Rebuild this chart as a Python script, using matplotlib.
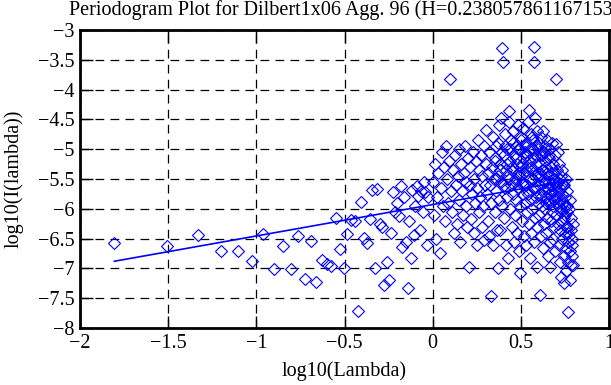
import matplotlib
matplotlib.use("Agg")
import matplotlib.pyplot as plt

# periodogram points, sparse low-frequency part
x_low = [-1.805, -1.504, -1.328, -1.203, -1.106, -1.027, -0.960, -0.902, -0.851, -0.805,
         -0.764, -0.726, -0.691, -0.659, -0.629, -0.601, -0.575, -0.550, -0.526, -0.504,
         -0.483, -0.463, -0.443, -0.425, -0.407, -0.390, -0.374, -0.358, -0.343, -0.328,
         -0.314, -0.300, -0.286, -0.274, -0.261, -0.249, -0.237, -0.225, -0.214, -0.203,
         -0.192, -0.182, -0.172, -0.162, -0.152, -0.142, -0.133, -0.124, -0.115, -0.106,
         -0.098, -0.089, -0.081, -0.073, -0.065, -0.057, -0.049, -0.042, -0.034, -0.027]
y_low = [-6.57, -6.62, -6.44, -6.70, -6.70, -6.87, -6.42, -7.01, -6.62, -7.01,
         -6.46, -7.17, -6.54, -7.22, -6.86, -6.92, -6.96, -6.16, -6.67, -6.99,
         -6.42, -6.18, -6.20, -7.72, -5.88, -6.49, -6.57, -6.17, -5.69, -7.00,
         -5.66, -6.25, -6.30, -7.28, -6.89, -7.19, -6.40, -5.71, -6.05, -5.90,
         -6.12, -5.62, -6.64, -5.80, -6.55, -7.33, -6.20, -6.82, -5.68, -6.44,
         -5.95, -5.62, -5.78, -6.35, -5.70, -6.05, -5.55, -5.72, -6.60, -5.80]

# dense high-frequency part
x_high = [0.000, 0.006, 0.013, 0.020, 0.026, 0.033, 0.039, 0.045, 0.051, 0.057,
          0.063, 0.069, 0.075, 0.081, 0.087, 0.093, 0.098, 0.104,
          0.110, 0.115, 0.121, 0.126, 0.131, 0.137, 0.142, 0.147, 0.152, 0.157,
          0.162, 0.167, 0.172, 0.177, 0.182, 0.187, 0.191, 0.196, 0.201,
          0.205, 0.210, 0.214, 0.219, 0.223, 0.228, 0.232, 0.236, 0.241, 0.245,
          0.249, 0.253, 0.257, 0.261, 0.265, 0.269, 0.273, 0.277, 0.281, 0.285,
          0.289, 0.293, 0.297, 0.300,
          0.304, 0.308, 0.311, 0.315, 0.319, 0.322, 0.326, 0.330, 0.333, 0.337,
          0.340, 0.344, 0.347, 0.351, 0.354, 0.357, 0.361, 0.364, 0.368, 0.371,
          0.374, 0.377, 0.380, 0.384, 0.387, 0.390, 0.393, 0.396, 0.399, 0.402,
          0.405, 0.408, 0.411, 0.414, 0.417, 0.420, 0.423, 0.426, 0.429, 0.432,
          0.435, 0.438, 0.441, 0.444, 0.446, 0.449, 0.452, 0.455, 0.458, 0.460,
          0.463, 0.466, 0.469, 0.471, 0.474, 0.477, 0.479, 0.482, 0.485, 0.487,
          0.490, 0.492, 0.495, 0.497, 0.500,
          0.503, 0.505, 0.508, 0.510, 0.513, 0.515, 0.517, 0.520, 0.522, 0.525,
          0.527, 0.530, 0.532, 0.534, 0.537, 0.539, 0.541, 0.544, 0.546, 0.548,
          0.551, 0.553, 0.555, 0.557, 0.560, 0.562, 0.564, 0.566, 0.568, 0.571,
          0.573, 0.575, 0.577, 0.579, 0.581, 0.583, 0.585, 0.587, 0.589, 0.591,
          0.593, 0.595, 0.597, 0.599,
          0.601, 0.603, 0.605, 0.607, 0.609, 0.611, 0.613, 0.615, 0.617, 0.619,
          0.621, 0.623, 0.625, 0.627, 0.629, 0.631, 0.633, 0.635, 0.637, 0.639,
          0.641, 0.643, 0.645, 0.647, 0.649, 0.651, 0.653, 0.655, 0.657, 0.659,
          0.661, 0.663, 0.665, 0.667, 0.668, 0.670, 0.672, 0.674, 0.676, 0.678,
          0.680, 0.682, 0.684, 0.686, 0.688, 0.690, 0.692, 0.694, 0.696, 0.698,
          0.700, 0.702, 0.704, 0.706, 0.708, 0.710, 0.712, 0.714, 0.716, 0.718,
          0.720, 0.722, 0.724, 0.726, 0.728, 0.730, 0.732, 0.734, 0.736, 0.738,
          0.740, 0.742, 0.744, 0.746, 0.748, 0.750, 0.752, 0.754, 0.756, 0.758,
          0.760, 0.762, 0.764, 0.766, 0.768, 0.770, 0.772, 0.774, 0.776, 0.778,
          0.780, 0.782, 0.784, 0.786, 0.788, 0.790, 0.792, 0.794, 0.795]
y_high = [-5.55, -6.10, -5.25, -6.50, -5.80, -5.40, -6.75, -5.65, -5.05, -5.95,
          -5.30, -6.20, -4.95, -5.50, -5.90, -5.20, -3.83, -5.70,
          -6.05, -5.35, -6.40, -5.10, -5.60, -6.25, -5.45, -5.00, -5.85, -6.55,
          -5.25, -5.70, -6.10, -5.40, -4.95, -5.95, -5.55, -6.30, -5.15,
          -6.97, -5.60, -5.30, -6.17, -5.75, -5.05, -6.40, -5.50, -5.90, -5.20,
          -6.60, -5.65, -4.85, -5.35, -6.05, -5.80, -5.10, -6.30, -5.45, -5.95,
          -4.95, -6.53, -5.60, -5.25,
          -4.68, -5.75, -6.20, -5.40, -5.05, -6.45, -5.60, -5.90, -7.46, -5.30,
          -4.80, -6.60, -5.50, -5.15, -6.05, -5.70, -4.95, -6.35, -5.45, -6.99,
          -5.85, -4.60, -5.25, -6.36, -5.55, -4.47, -5.95, -3.31, -3.54, -5.10,
          -6.15, -4.75, -5.65, -5.35, -6.61, -5.00, -5.80, -6.82, -5.45, -4.55,
          -4.36, -6.00, -5.20, -5.60, -4.85, -6.30, -5.35, -5.75, -4.70, -6.55,
          -5.10, -5.50, -6.10, -4.95, -5.85, -5.25, -6.40, -4.60, -5.65, -5.40,
          -6.70, -5.00, -5.95, -7.07, -5.30,
          -4.80, -5.55, -6.20, -5.15, -5.75, -4.65, -6.45, -5.40, -5.90, -5.05,
          -6.60, -5.60, -4.90, -6.05, -5.30, -5.70, -4.55, -4.34, -6.25, -5.20,
          -6.82, -5.50, -4.75, -5.85, -6.40, -5.35, -5.00, -6.00, -5.65, -4.85,
          -6.55, -3.29, -3.54, -4.47, -5.45, -6.15, -5.10, -5.80, -4.70, -6.30,
          -6.98, -5.40, -5.90, -5.00,
          -5.60, -4.90, -6.10, -5.25, -7.44, -5.75, -4.80, -6.45, -5.45, -5.10,
          -5.95, -6.65, -5.35, -4.69, -5.70, -6.25, -5.05, -5.55, -6.00, -4.95,
          -5.80, -6.40, -5.30, -5.65, -4.85, -6.15, -5.45, -6.80, -5.15, -5.90,
          -5.55, -6.55, -5.00, -6.98, -5.75, -6.20, -5.40, -4.90, -6.05, -5.60,
          -6.50, -5.25, -5.50, -5.85, -6.30, -5.50, -5.10, -6.70, -5.70, -6.10,
          -3.83, -4.92, -5.35, -5.80, -6.25, -5.05, -5.55, -6.60, -5.95, -5.25,
          -6.90, -5.65, -6.35, -5.45, -6.05, -7.15, -5.75, -6.50, -5.35, -6.20,
          -5.90, -6.80, -5.60, -7.25, -6.40, -5.80, -6.10, -5.50, -6.65, -7.05,
          -5.95, -6.30, -5.70, -6.90, -6.55, -7.73, -6.00, -6.45, -5.85, -7.20,
          -6.70, -6.15, -6.95, -6.35, -6.60, -6.80, -6.50, -6.95, -6.25]

# extra points in the crowded core of the cloud
x_core = [0.352, 0.362, 0.372, 0.382, 0.392, 0.403, 0.413, 0.422, 0.431, 0.440,
          0.448, 0.457, 0.466, 0.474, 0.483, 0.491, 0.499, 0.507, 0.514, 0.521,
          0.529, 0.536, 0.543, 0.550, 0.556, 0.563, 0.569, 0.576, 0.582, 0.588,
          0.594, 0.600, 0.606, 0.612, 0.618, 0.624, 0.630, 0.636, 0.642, 0.648,
          0.654, 0.660, 0.666, 0.672, 0.678, 0.684, 0.690, 0.696, 0.702, 0.708,
          0.714, 0.720, 0.726, 0.732, 0.738, 0.744, 0.750, 0.756, 0.762, 0.768]
y_core = [-5.20, -5.50, -4.90, -5.35, -5.05, -5.60, -4.95, -5.25, -5.50, -5.00,
          -5.30, -4.90, -5.55, -5.15, -5.00, -5.45, -4.85, -5.25, -5.60, -4.95,
          -5.35, -5.10, -5.75, -5.00, -5.30, -4.80, -5.50, -5.15, -5.65, -5.25,
          -4.95, -5.45, -5.10, -5.80, -5.35, -5.05, -5.55, -5.20, -5.90, -5.40,
          -5.65, -5.10, -5.85, -5.30, -5.70, -5.95, -5.40, -5.80, -5.60, -5.90,
          -5.70, -5.50, -6.00, -5.85, -5.60, -6.15, -5.95, -6.30, -6.05, -6.40]

# least-squares line end points
fit_x = [-1.805, 0.795]
fit_y = [-6.88, -5.51]

plt.rcParams["font.family"] = ["Liberation Serif", "DejaVu Serif"]
plt.rcParams["font.size"] = 14.5

fig = plt.figure(figsize=(6.11, 3.85), dpi=100)
ax = fig.add_axes([80 / 611, 1 - 328 / 385, 529 / 611, 298 / 385])

ax.plot(x_low + x_high + x_core, y_low + y_high + y_core, linestyle="none", marker="D",
        markersize=6.6, markerfacecolor="none", markeredgecolor="blue",
        markeredgewidth=0.8, zorder=3)
ax.plot(fit_x, fit_y, color="blue", linewidth=1.2, zorder=4)

ax.set_xlim(-2, 1)
ax.set_ylim(-8, -3)
ax.set_xticks([-2, -1.5, -1, -0.5, 0, 0.5, 1])
ax.set_xticklabels(["\u22122", "\u22121.5", "\u22121", "\u22120.5", "0", "0.5", "1"])
ax.set_yticks([-8, -7.5, -7, -6.5, -6, -5.5, -5, -4.5, -4, -3.5, -3])
ax.set_yticklabels(["\u22128", "\u22127.5", "\u22127", "\u22126.5", "\u22126", "\u22125.5",
                    "\u22125", "\u22124.5", "\u22124", "\u22123.5", "\u22123"])
ax.grid(True, color="black", linestyle=(0, (7, 5)), linewidth=0.9)
ax.set_axisbelow(True)
ax.tick_params(direction="in", length=9, width=1, top=True, right=True, pad=4)
for sp in ax.spines.values():
    sp.set_linewidth(2)

ax.set_xlabel("log10(Lambda)", labelpad=6)
ax.set_ylabel("log10(I(lambda))", labelpad=10)
fig.text(344.5 / 611, 1 - 10 / 385,
         "Periodogram Plot for Dilbert1x06 Agg. 96 (H=0.238057861167153)",
         ha="center", va="center")

fig.savefig("out.png", dpi=100)
